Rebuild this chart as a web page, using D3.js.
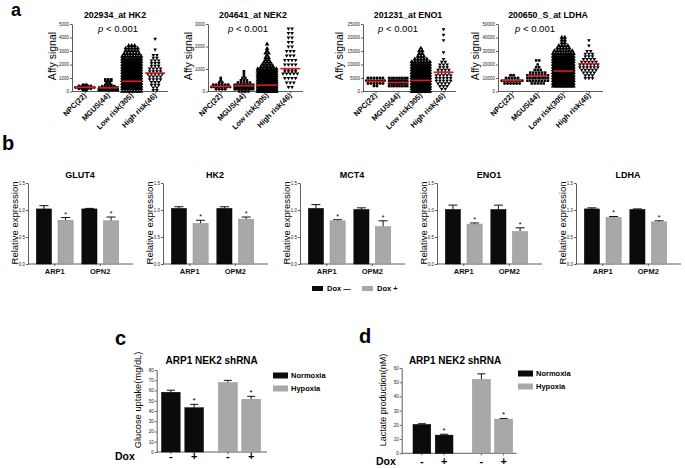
<!DOCTYPE html>
<html><head><meta charset="utf-8">
<script src="https://cdn.jsdelivr.net/npm/d3@7"></script>
<style>body{margin:0;background:#fff;} svg{display:block;}</style>
</head><body><svg id="c" width="685" height="468"></svg>
<script>
// ================= DATA =================
// ---- panel a : Affymetrix dot plots (rows: [signal value, number of dots in that row]) ----
const groupsA = ["NPC(22)", "MGUS(44)", "Low risk(305)", "High risk(46)"];
const probesA = ["202934_at HK2", "204641_at NEK2", "201231_at ENO1", "200650_S_at LDHA"];
const pTextA = "< 0.001";
const yMaxA = [5000, 3000, 25000, 50000];
const yTicksA = [[0,1000,2000,3000,4000,5000],[0,1000,2000,3000],[0,5000,10000,15000,20000,25000],[0,10000,20000,30000,40000,50000]];

const hk2_NPC  = [[100,2],[200,5],[300,8],[400,5],[500,2]];
const hk2_MGUS = [[100,10],[200,9],[300,7],[400,5],[500,3],[600,2],[700,2],[800,3],[900,3]];
const hk2_Low  = [[0,8],[200,22],[400,30],[600,32],[800,30],[1000,28],[1200,26],[1400,24],[1600,22],[1800,18],[2000,16],[2200,12],[2400,10],[2600,8],[2800,6],[3000,5],[3200,5],[3400,3]];
const hk2_High = [[100,2],[300,2],[500,3],[700,3],[900,4],[1100,4],[1300,5],[1500,4],[1700,4],[1900,3],[2100,3],[2300,3],[2500,2],[2700,2],[3100,1],[3900,1]];

const nek2_NPC  = [[100,4],[200,8],[300,6],[400,2],[500,1],[600,1]];
const nek2_MGUS = [[0,4],[100,9],[200,10],[300,8],[400,5],[500,3],[600,2],[700,1],[800,1],[900,1]];
const nek2_Low  = [[0,30],[100,45],[200,45],[300,40],[400,32],[500,25],[600,20],[700,16],[800,12],[900,10],[1000,8],[1100,5],[1200,4],[1300,3],[1400,2],[1500,2],[1600,1],[1700,2],[1800,1],[1900,1],[2100,1]];
const nek2_High = [[200,2],[400,3],[600,4],[800,5],[900,4],[1000,4],[1200,4],[1400,4],[1600,3],[1800,3],[2000,2],[2200,2],[2400,2],[2600,2],[2800,2]];

const eno1_NPC  = [[2000,2],[3000,6],[4000,8],[5000,6]];
const eno1_MGUS = [[2000,8],[3000,14],[4000,14],[5000,8]];
const eno1_Low  = [[0,15],[1000,25],[2000,35],[3000,40],[4000,40],[5000,35],[6000,30],[7000,25],[8000,18],[9000,12],[10000,10],[11000,7],[12000,5],[13000,3],[14000,2],[15000,2],[16000,1]];
const eno1_High = [[1000,2],[2000,3],[3000,4],[4000,5],[5000,5],[6000,5],[7000,4],[8000,4],[9000,3],[10000,3],[11000,2],[12000,1],[14500,1],[19000,1],[21000,1],[23000,1]];

const ldha_NPC  = [[6000,6],[8000,9],[10000,5],[12000,2]];
const ldha_MGUS = [[6000,5],[8000,8],[10000,9],[12000,8],[14000,6],[16000,3],[18000,2],[20000,1],[23000,2]];
const ldha_Low  = [[4000,12],[6000,20],[8000,28],[10000,32],[12000,32],[14000,30],[16000,28],[18000,25],[20000,22],[22000,18],[24000,15],[26000,12],[28000,9],[30000,7],[32000,5],[34000,4],[36000,2],[38000,2],[40000,2]];
const ldha_High = [[10000,3],[12000,3],[14000,4],[16000,5],[18000,6],[20000,6],[22000,5],[24000,4],[26000,3],[28000,3],[30000,2],[34000,1],[38000,1]];

const mediansA = [[320,270,760,1370],[224,255,283,1017],[3730,3360,4100,7090],[8200,11700,15150,20650]];

// ---- panel b : relative expression ----
const genesB = ["GLUT4", "HK2", "MCT4", "ENO1", "LDHA"];
const cellsB = [["ARP1","OPN2"],["ARP1","OPM2"],["ARP1","OPM2"],["ARP1","OPM2"],["ARP1","OPM2"]];
const doxMinusB    = [[1.02,1.02],[1.03,1.03],[1.03,1.01],[1.01,1.01],[1.02,1.01]];
const doxMinusErrB = [[0.06,0.01],[0.03,0.03],[0.07,0.03],[0.08,0.08],[0.02,0.01]];
const doxPlusB     = [[0.81,0.80],[0.75,0.83],[0.80,0.69],[0.74,0.60],[0.86,0.78]];
const doxPlusErrB  = [[0.05,0.07],[0.06,0.04],[0.02,0.11],[0.02,0.07],[0.02,0.02]];
const yTicksB = [0, 0.5, 1.0, 1.5];
const legendB = ["Dox \u2014", "Dox +"];

// ---- panels c, d ----
const conditionsCD = ["Normoxia", "Hypoxia"];
const doxCD = ["-", "+"];
const glucose    = [[58.3, 43.2], [67.6, 51.4]];
const glucoseErr = [[2.0, 3.3], [2.3, 2.9]];
const lactate    = [[20.3, 12.8], [51.9, 24.0]];
const lactateErr = [[0.5, 0.6], [4.0, 0.5]];
const yTicksC = [0,10,20,30,40,50,60,70,80];
const yTicksD = [0,10,20,30,40,50,60];

// ================= DRAW =================
const FONT = "'Liberation Sans', Arial, Helvetica, sans-serif";
const svg = d3.select("#c").attr("font-family", FONT);
const AX = "#333";

function styleAxis(sel, fs) {
  sel.selectAll("path,line").attr("stroke", AX).attr("stroke-width", 0.8);
  sel.selectAll("text").attr("font-size", fs).attr("fill", "#222").attr("font-family", FONT);
}

// panel letters
[["a",11,16,18],["b",2,150,20],["c",115,345,20],["d",359,343,20]].forEach(([t,x,y,fs]) =>
  svg.append("text").attr("x",x).attr("y",y).attr("font-size",fs).attr("font-weight","bold").text(t));

// ---------- panel a ----------
const rowsA = [
  [hk2_NPC, hk2_MGUS, hk2_Low, hk2_High],
  [nek2_NPC, nek2_MGUS, nek2_Low, nek2_High],
  [eno1_NPC, eno1_MGUS, eno1_Low, eno1_High],
  [ldha_NPC, ldha_MGUS, ldha_Low, ldha_High]];
const frameA = [
  {x0:72, x1:168, lab:52, tx:115, px:118},
  {x0:208, x1:303, lab:188, tx:253, px:248},
  {x0:363, x1:456, lab:339, tx:408, px:398},
  {x0:498, x1:603, lab:475, tx:548, px:535}];
const symA = [d3.symbolCircle, d3.symbolSquare, d3.symbolTriangle, d3.symbolTriangle];
const symSize = [7, 6.5, 9, 6];
const spacingA = [3.0, 3.0, 3.0, 3.6];

probesA.forEach((probe, k) => {
  const f = frameA[k];
  const g = svg.append("g");
  const x = d3.scalePoint().domain(groupsA).range([f.x0, f.x1]).padding(0.55);
  const y = d3.scaleLinear().domain([0, yMaxA[k]]).range([91.5, 24]);
  g.append("g").attr("transform", `translate(${f.x0},0)`)
    .call(d3.axisLeft(y).tickValues(yTicksA[k]).tickSize(2).tickSizeOuter(0).tickPadding(1).tickFormat(d3.format("d")))
    .call(s => styleAxis(s, 4.5));
  g.append("g").attr("transform", "translate(0,91.5)")
    .call(d3.axisBottom(x).tickSize(2).tickSizeOuter(0).tickFormat(""))
    .call(s => { styleAxis(s, 4.5); s.select(".domain").attr("d", `M${f.x0},0H${f.x1}`); });
  // rotated category labels
  g.selectAll("text.cat").data(groupsA).join("text")
    .attr("transform", d => `translate(${x(d)+2},96) rotate(-45)`)
    .attr("text-anchor", "end").attr("font-size", 7.5).attr("font-weight", "bold").text(d => d);
  // titles
  g.append("text").attr("x", f.tx).attr("y", 18).attr("text-anchor", "middle")
    .attr("font-size", 8.8).attr("font-weight", "bold").text(probe);
  const pt = g.append("text").attr("x", f.px).attr("y", 32).attr("text-anchor", "middle").attr("font-size", 9.5);
  pt.append("tspan").attr("font-style", "italic").text("p");
  pt.append("tspan").text(" " + pTextA);
  g.append("text").attr("transform", `translate(${f.lab},56) rotate(-90)`)
    .attr("text-anchor", "middle").attr("dy", "0.35em").attr("font-size", 10.5).text("Affy signal");
  // dots
  const maxW = x.step() * 0.8;
  rowsA[k].forEach((rows, gi) => {
    const cx = x(groupsA[gi]);
    const pts = [];
    rows.forEach(([v, n]) => {
      const dx = n > 1 ? Math.min(spacingA[gi], maxW / (n - 1)) : 0;
      for (let i = 0; i < n; i++) pts.push({x: cx + (i - (n - 1) / 2) * dx, y: y(v)});
    });
    g.append("g").selectAll("path").data(pts).join("path")
      .attr("d", d3.symbol().type(symA[gi]).size(symSize[gi]))
      .attr("transform", d => `translate(${d.x},${d.y})` + (gi === 3 ? " rotate(180)" : ""))
      .attr("fill", "#000");
    g.append("line").attr("x1", cx - 10).attr("x2", cx + 10)
      .attr("y1", y(mediansA[k][gi])).attr("y2", y(mediansA[k][gi]))
      .attr("stroke", "#e3191e").attr("stroke-width", 1.6);
  });
});

// ---------- panel b ----------
const x0B = [28, 163, 300, 437, 576];
const BLACK = "#0b0b0b", GRAY = "#a8a8a8";
genesB.forEach((gene, k) => {
  const L = x0B[k], W = 105;
  const g = svg.append("g");
  const y = d3.scaleLinear().domain([0, 1.5]).range([264, 183]);
  const gx = d3.scaleBand().domain(cellsB[k]).range([L + 4, L + 95]);
  const ix = d3.scaleBand().domain(["minus", "plus"]).range([0, gx.bandwidth()]).paddingInner(0.3).paddingOuter(0.2);
  g.append("g").attr("transform", `translate(${L},0)`)
    .call(d3.axisLeft(y).tickValues(yTicksB).tickSize(2).tickSizeOuter(0).tickPadding(1).tickFormat(d3.format(".1f")))
    .call(s => styleAxis(s, 4.5));
  g.append("g").attr("transform", "translate(0,264)")
    .call(d3.axisBottom(gx).tickSize(2).tickSizeOuter(0).tickPadding(3))
    .call(s => { styleAxis(s, 7.5); s.selectAll("text").attr("font-weight", "bold").attr("fill", "#111");
                 s.select(".domain").attr("d", `M${L},0H${L+W}`); });
  g.append("text").attr("x", L + 52).attr("y", 178).attr("text-anchor", "middle")
    .attr("font-size", 9).attr("font-weight", "bold").text(gene);
  g.append("text").attr("transform", `translate(${L-13},223) rotate(-90)`)
    .attr("text-anchor", "middle").attr("dy", "0.35em").attr("font-size", 9.5).text("Relative expression");
  const bars = [];
  cellsB[k].forEach((c, ci) => {
    bars.push({c, s: "minus", v: doxMinusB[k][ci], e: doxMinusErrB[k][ci], fill: BLACK, star: false});
    bars.push({c, s: "plus", v: doxPlusB[k][ci], e: doxPlusErrB[k][ci], fill: GRAY, star: true});
  });
  bars.forEach(b => {
    const bx = gx(b.c) + ix(b.s), bw = ix.bandwidth(), cx = bx + bw / 2;
    g.append("line").attr("x1", cx).attr("x2", cx).attr("y1", y(b.v)).attr("y2", y(b.v + b.e)).attr("stroke", "#111").attr("stroke-width", 1);
    g.append("line").attr("x1", cx - 4.5).attr("x2", cx + 4.5).attr("y1", y(b.v + b.e)).attr("y2", y(b.v + b.e)).attr("stroke", "#111").attr("stroke-width", 1);
    g.append("rect").attr("x", bx).attr("y", y(b.v)).attr("width", bw).attr("height", y(0) - y(b.v))
      .attr("fill", b.fill).attr("stroke", b.fill === BLACK ? "#000" : "#8a8a8a").attr("stroke-width", 0.5);
    if (b.star) g.append("text").attr("x", cx).attr("y", y(b.v + b.e) - 1).attr("text-anchor", "middle")
      .attr("font-size", 7).text("*");
  });
});
// legend b
[[312, BLACK, legendB[0]], [362, GRAY, legendB[1]]].forEach(([lx, fill, t]) => {
  svg.append("rect").attr("x", lx).attr("y", 286).attr("width", 11).attr("height", 5).attr("fill", fill);
  svg.append("text").attr("x", lx + 15).attr("y", 291).attr("font-size", 7.5).attr("font-weight", "bold").text(t);
});

// ---------- panels c, d ----------
function barPanel(cfg) {
  const g = svg.append("g");
  const y = d3.scaleLinear().domain([0, cfg.yMax]).range([cfg.yBottom, cfg.yTop]);
  const gx = d3.scalePoint().domain(conditionsCD).range(cfg.centers);
  const ix = d3.scaleBand().domain(doxCD).range([-cfg.half, cfg.half]).paddingInner(0.2);
  g.append("g").attr("transform", `translate(${cfg.L},0)`)
    .call(d3.axisLeft(y).tickValues(cfg.ticks).tickSize(2).tickSizeOuter(0).tickPadding(1))
    .call(s => styleAxis(s, 4.5));
  const xs = [];
  conditionsCD.forEach((c, ci) => doxCD.forEach((d, di) => xs.push({c, d, ci, di})));
  const ax = g.append("g").attr("transform", `translate(0,${cfg.yBottom})`);
  ax.append("line").attr("x1", cfg.L).attr("x2", cfg.R).attr("stroke", AX).attr("stroke-width", 0.8);
  xs.forEach(o => {
    const bx = gx(o.c) + ix(o.d), bw = ix.bandwidth(), cx = bx + bw / 2;
    const v = cfg.vals[o.ci][o.di], e = cfg.errs[o.ci][o.di];
    const fill = o.ci === 0 ? BLACK : GRAY;
    g.append("line").attr("x1", cx).attr("x2", cx).attr("y1", y(v)).attr("y2", y(v + e)).attr("stroke", "#111");
    g.append("line").attr("x1", cx - 4).attr("x2", cx + 4).attr("y1", y(v + e)).attr("y2", y(v + e)).attr("stroke", "#111");
    g.append("rect").attr("x", bx).attr("y", y(v)).attr("width", bw).attr("height", y(0) - y(v))
      .attr("fill", fill).attr("stroke", o.ci === 0 ? "#000" : "#8a8a8a").attr("stroke-width", 0.5);
    if (o.di === 1) g.append("text").attr("x", cx).attr("y", y(v + e) - 1.5).attr("text-anchor", "middle").attr("font-size", 8).text("*");
    ax.append("line").attr("x1", cx).attr("x2", cx).attr("y1", 0).attr("y2", 2).attr("stroke", AX).attr("stroke-width", 0.8);
    g.append("text").attr("x", cx).attr("y", cfg.doxY).attr("text-anchor", "middle")
      .attr("font-size", 11).attr("font-weight", "bold").text(o.d);
  });
  g.append("text").attr("x", cfg.doxX).attr("y", cfg.doxY).attr("font-size", 10.5).attr("font-weight", "bold").text("Dox");
  g.append("text").attr("x", cfg.tx).attr("y", 364).attr("text-anchor", "middle")
    .attr("font-size", 10).attr("font-weight", "bold").text("ARP1 NEK2 shRNA");
  g.append("text").attr("transform", `translate(${cfg.labX},${cfg.labY}) rotate(-90)`)
    .attr("text-anchor", "middle").attr("dy", "0.35em").attr("font-size", cfg.labFs).text(cfg.label);
  conditionsCD.forEach((c, ci) => {
    g.append("rect").attr("x", cfg.legX).attr("y", cfg.legY + ci * 13 - 3).attr("width", 15).attr("height", 6)
      .attr("fill", ci === 0 ? BLACK : GRAY);
    g.append("text").attr("x", cfg.legX + 18).attr("y", cfg.legY + ci * 13).attr("dy", "0.35em")
      .attr("font-size", 7.5).attr("font-weight", "bold").text(c);
  });
}
barPanel({L:156.7, R:267, yTop:370, yBottom:452, yMax:80, ticks:yTicksC, centers:[182.5,239.5], half:21,
  vals:glucose, errs:glucoseErr, doxX:115, doxY:460, tx:211.7, labX:138, labY:400, labFs:9.3,
  label:"Glucose uptake(mg/dL)", legX:273, legY:375.5});
barPanel({L:401.7, R:516.7, yTop:368, yBottom:453.3, yMax:60, ticks:yTicksD, centers:[433,492.5], half:20,
  vals:lactate, errs:lactateErr, doxX:376, doxY:465, tx:455, labX:383, labY:400, labFs:9,
  label:"Lactate production(nM)", legX:518, legY:373.5});
</script>
</body></html>
